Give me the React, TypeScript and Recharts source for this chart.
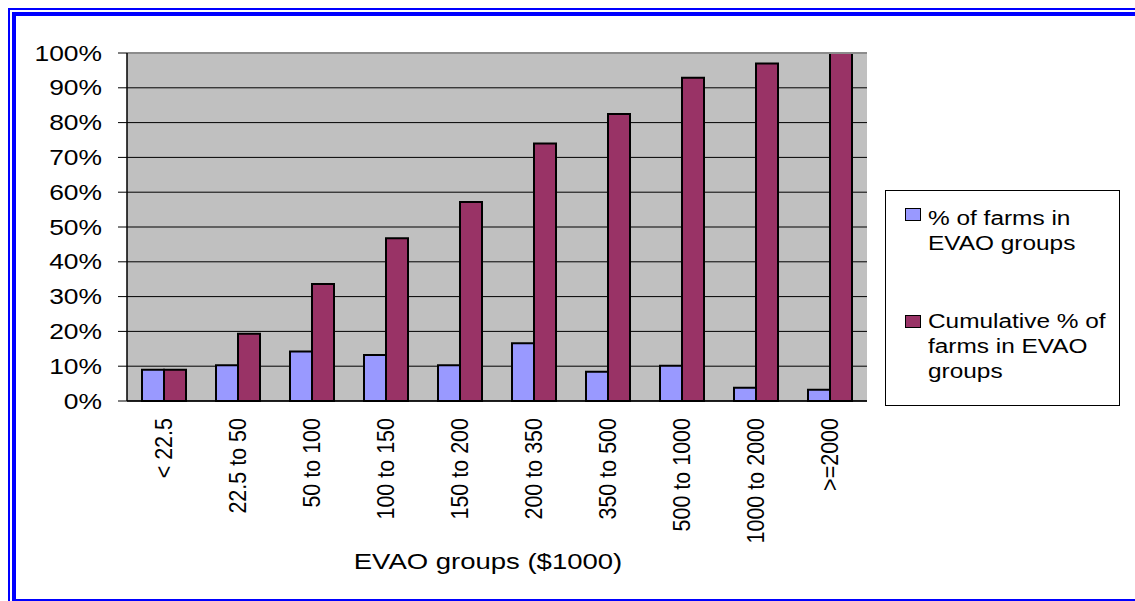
import React from 'react';
import { BarChart, Bar, XAxis, YAxis, CartesianGrid, Legend, ReferenceLine } from 'recharts';

const categories = ['< 22.5', '22.5 to 50', '50 to 100', '100 to 150', '150 to 200', '200 to 350', '350 to 500', '500 to 1000', '1000 to 2000', '>=2000'];
const pctFarms = [9.0, 10.3, 14.2, 13.2, 10.3, 16.6, 8.4, 10.1, 3.8, 3.2];
const cumulativePct = [9.0, 19.3, 33.6, 46.8, 57.2, 74.0, 82.5, 92.9, 97.0, 100];
const yTicks = [0, 10, 20, 30, 40, 50, 60, 70, 80, 90, 100];
const edgeTicks = [0, 1, 2, 3, 4, 5, 6, 7, 8, 9, 10];
const seriesNames = ['% of farms in EVAO groups', 'Cumulative % of farms in EVAO groups'];
const seriesColors = ['#9999FF', '#993366'];
const axisTitle = 'EVAO groups ($1000)';

const data = categories.map((c, i) => ({ group: c, pct: pctFarms[i], cum: cumulativePct[i] }));

const FONT = '"Liberation Sans", Arial, Helvetica, sans-serif';
const BLUE = '#0000FF';

function SText(props: any) {
  const { x, y, sx, anchor, size, rotate, children } = props;
  return (
    <g transform={`translate(${x},${y}) scale(${sx},1)${rotate ? ' rotate(-90)' : ''}`}>
      <text x={0} y={0} textAnchor={anchor} fontSize={size} fontFamily={FONT} fill="#000">
        {children}
      </text>
    </g>
  );
}

const YTick = (props: any) => {
  const { x, y, payload } = props;
  return <SText x={x} y={y + 7.5} sx={1.2} anchor="end" size={22}>{`${payload.value}%`}</SText>;
};

const XTick = (props: any) => {
  const { x, y, payload } = props;
  return <SText x={x + 8} y={y} sx={1.15} anchor="end" size={21.5} rotate>{payload.value}</SText>;
};

const EmptyTick = () => <g />;

const TitleLabel = (props: any) => {
  const vb = props.viewBox || { x: 127, y: 401, width: 740, height: 200 };
  return (
    <SText x={vb.x + vb.width / 2 - 9} y={vb.y + 168} sx={1.25} anchor="middle" size={22}>
      {axisTitle}
    </SText>
  );
};

const LegendBox = (props: any) => {
  const payload = (props.payload || []).filter((p: any) => p.value);
  const tops = [14.6, 117.6];
  const sqTops = [17, 124];
  return (
    <div
      style={{
        width: 235,
        height: 216,
        border: '1px solid #000',
        background: '#fff',
        boxSizing: 'border-box',
        position: 'relative',
        fontFamily: FONT,
      }}
    >
      {payload.map((p: any, i: number) => (
        <React.Fragment key={i}>
          <div
            style={{
              position: 'absolute',
              left: 19,
              top: sqTops[i],
              width: 16,
              height: 13,
              boxSizing: 'border-box',
              border: '1.5px solid #000',
              background: p.color,
            }}
          />
          <div
            style={{
              position: 'absolute',
              left: 42,
              top: tops[i],
              width: 160,
              fontSize: 20,
              lineHeight: '25px',
              color: '#000',
              transform: 'scaleX(1.22)',
              transformOrigin: 'left top',
              whiteSpace: 'normal',
            }}
          >
            {p.value}
          </div>
        </React.Fragment>
      ))}
    </div>
  );
};

const line = (left: number, top: number, width: number, height: number) => (
  <div style={{ position: 'absolute', left, top, width, height, background: BLUE }} />
);

export default function App() {
  return (
    <div style={{ position: 'fixed', left: 0, top: 0, width: 1135, height: 601, overflow: 'hidden', background: '#fff' }}>
      {line(8, 8, 1127, 2)}
      {line(8, 8, 2, 593)}
      {line(12, 12, 1123, 4)}
      {line(12, 12, 4, 589)}
      {line(12, 599, 1123, 2)}
      <div style={{ position: 'absolute', left: 0, top: 0 }}>
        <BarChart
          width={1135}
          height={601}
          data={data}
          margin={{ top: 53, right: 268, bottom: 0, left: 0 }}
          barCategoryGap={15}
          barGap={0}
        >
          <CartesianGrid horizontal vertical={false} stroke="#000" strokeWidth={1} fill="#C0C0C0" fillOpacity={1} />
          <XAxis
            xAxisId="edges"
            type="number"
            domain={[0, 10]}
            ticks={edgeTicks}
            interval={0}
            height={0}
            axisLine={false}
            tickLine={{ stroke: '#000', strokeWidth: 1 }}
            tickSize={7}
            tick={<EmptyTick />}
            allowDataOverflow
          />
          <XAxis
            dataKey="group"
            interval={0}
            height={200}
            tickLine={false}
            tickSize={7}
            tickMargin={10}
            axisLine={{ stroke: '#000', strokeWidth: 1.5 }}
            tick={<XTick />}
            label={<TitleLabel />}
          />
          <YAxis
            domain={[0, 100]}
            ticks={yTicks}
            interval={0}
            width={127}
            tickSize={9}
            tickMargin={16}
            axisLine={{ stroke: '#000', strokeWidth: 1.5 }}
            tickLine={{ stroke: '#000', strokeWidth: 1 }}
            tick={<YTick />}
          />
          <YAxis
            yAxisId="right"
            orientation="right"
            domain={[0, 100]}
            width={0}
            tick={false}
            tickLine={false}
            axisLine={{ stroke: '#8C8C8C', strokeWidth: 2 }}
          />
          <ReferenceLine y={100} stroke="#8C8C8C" strokeWidth={2} />
          <Bar dataKey="pct" name={seriesNames[0]} fill={seriesColors[0]} stroke="#000" strokeWidth={2} isAnimationActive={false} />
          <Bar dataKey="cum" name={seriesNames[1]} fill={seriesColors[1]} stroke="#000" strokeWidth={2} isAnimationActive={false} />
          <Legend
            content={<LegendBox />}
            layout="horizontal"
            align="center"
            verticalAlign="middle"
            wrapperStyle={{ left: 885, top: 190, width: 235, height: 216 }}
          />
        </BarChart>
      </div>
    </div>
  );
}
